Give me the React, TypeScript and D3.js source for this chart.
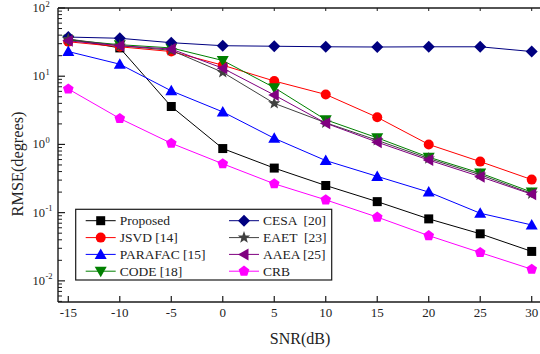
import { useMemo } from "react";
import * as d3 from "d3";

const snr = [-15, -10, -5, 0, 5, 10, 15, 20, 25, 30];

const proposed = [35, 26, 3.6, 0.87, 0.45, 0.25, 0.145, 0.081, 0.049, 0.027];
const jsvd = [32, 27, 23, 14.5, 8.5, 5.4, 2.5, 1.0, 0.56, 0.305];
const parafac = [23, 15, 6.1, 3.0, 1.23, 0.58, 0.34, 0.2, 0.098, 0.066];
const code = [34, 29, 26, 17, 6.8, 2.3, 1.25, 0.65, 0.38, 0.2];
const cesa = [37.5, 36, 31, 28, 27.5, 27, 26.8, 27, 27, 23];
const eaet = [35, 28, 24, 11.4, 4.0, 2.08, 1.15, 0.62, 0.36, 0.19];
const aaea = [33, 28, 25, 13.1, 5.3, 2.05, 1.08, 0.59, 0.337, 0.186];
const crb = [6.5, 2.4, 1.04, 0.52, 0.265, 0.154, 0.086, 0.046, 0.026, 0.0148];

const xTicks = [-15, -10, -5, 0, 5, 10, 15, 20, 25, 30];
const yDecades = [-2, -1, 0, 1, 2];

type Shape = "square" | "circle" | "up" | "down" | "left" | "diamond" | "star" | "pentagon";

const series: { name: string; values: number[]; color: string; shape: Shape }[] = [
  { name: "Proposed", values: proposed, color: "#000000", shape: "square" },
  { name: "JSVD [14]", values: jsvd, color: "#ff0000", shape: "circle" },
  { name: "PARAFAC [15]", values: parafac, color: "#0000ff", shape: "up" },
  { name: "CODE [18]", values: code, color: "#008000", shape: "down" },
  { name: "CESA  [20]", values: cesa, color: "#000080", shape: "diamond" },
  { name: "EAET  [23]", values: eaet, color: "#404040", shape: "star" },
  { name: "AAEA [25]", values: aaea, color: "#800080", shape: "left" },
  { name: "CRB", values: crb, color: "#ff00ff", shape: "pentagon" },
];

function poly(pts: [number, number][]) {
  return "M" + pts.map((p) => p.join(",")).join("L") + "Z";
}

function markerPath(shape: Shape) {
  if (shape === "square") return poly([[-4.5, -4.5], [4.5, -4.5], [4.5, 4.5], [-4.5, 4.5]]);
  if (shape === "circle") return "M5,0A5,5 0 1,1 -5,0A5,5 0 1,1 5,0Z";
  if (shape === "up") return poly([[0, -6], [6, 4.5], [-6, 4.5]]);
  if (shape === "down") return poly([[0, 6], [6, -4.5], [-6, -4.5]]);
  if (shape === "left") return poly([[-6, 0], [4.5, -6], [4.5, 6]]);
  if (shape === "diamond") return poly([[0, -6], [6, 0], [0, 6], [-6, 0]]);
  if (shape === "star") {
    const pts: [number, number][] = [];
    for (let i = 0; i < 10; i++) {
      const r = i % 2 === 0 ? 6.5 : 2.7;
      const a = -Math.PI / 2 + (i * Math.PI) / 5;
      pts.push([r * Math.cos(a), r * Math.sin(a)]);
    }
    return poly(pts);
  }
  const pts: [number, number][] = [];
  for (let i = 0; i < 5; i++) {
    const a = -Math.PI / 2 + (i * 2 * Math.PI) / 5;
    pts.push([5.6 * Math.cos(a), 5.6 * Math.sin(a)]);
  }
  return poly(pts);
}

export default function App() {
  const width = 540;
  const height = 354;
  const left = 58;
  const right = 542;
  const top = 8;
  const bottom = 302;

  const x = d3.scaleLinear().domain([-16, 31]).range([left, right]);
  const y = d3.scaleLog().domain([Math.pow(10, -2.31), 100]).range([bottom, top]);

  const line = d3
    .line<number>()
    .x((_, i) => x(snr[i]))
    .y((v) => y(v));

  const minorTicks = useMemo(() => {
    const out: number[] = [];
    for (let e = -3; e < 2; e++) {
      for (let m = 2; m <= 9; m++) {
        const v = m * Math.pow(10, e);
        if (v >= Math.pow(10, -2.31) && v < 100) out.push(v);
      }
    }
    return out;
  }, []);

  const font = "'Liberation Serif', 'Times New Roman', serif";
  const legX = [75.7, 219];
  const legRows = [220.7, 237.6, 254.4, 271.2];

  return (
    <svg
      width={width}
      height={height}
      style={{ position: "absolute", left: 0, top: 0, background: "#fff" }}
      fontFamily={font}
    >
      {/* data */}
      {series.map((s) => (
        <g key={s.name}>
          <path d={line(s.values) ?? ""} fill="none" stroke={s.color} strokeWidth={1} />
          {s.values.map((v, i) => (
            <path
              key={i}
              d={markerPath(s.shape)}
              transform={`translate(${x(snr[i])},${y(v)})`}
              fill={s.color}
            />
          ))}
        </g>
      ))}

      {/* axes frame */}
      <line x1={left} x2={left} y1={top} y2={bottom} stroke="#1a1a1a" strokeWidth={1.4} />
      <line x1={left} x2={right} y1={bottom} y2={bottom} stroke="#1a1a1a" strokeWidth={1.4} />
      <line x1={left} x2={right} y1={top} y2={top} stroke="#1a1a1a" strokeWidth={1.4} />

      {xTicks.map((t) => (
        <g key={t}>
          <line x1={x(t)} x2={x(t)} y1={bottom} y2={bottom - 6} stroke="#1a1a1a" strokeWidth={1.2} />
          <line x1={x(t)} x2={x(t)} y1={top} y2={top + 3} stroke="#1a1a1a" strokeWidth={1} />
          <text x={x(t)} y={317} fontSize={13} textAnchor="middle" fill="#222">
            {t}
          </text>
        </g>
      ))}

      {yDecades.map((e) => (
        <g key={e}>
          <line x1={left} x2={left + 7} y1={y(Math.pow(10, e))} y2={y(Math.pow(10, e))} stroke="#1a1a1a" strokeWidth={1.2} />
          <text x={45} y={y(Math.pow(10, e)) + 4} fontSize={12.5} textAnchor="end" fill="#222">
            10
          </text>
          <text x={45.5} y={y(Math.pow(10, e)) - 1.5} fontSize={8.5} fill="#222">
            {e}
          </text>
        </g>
      ))}
      {minorTicks.map((v) => (
        <line key={v} x1={left} x2={left + 4} y1={y(v)} y2={y(v)} stroke="#1a1a1a" strokeWidth={1} />
      ))}

      {/* axis titles */}
      <text x={300} y={344} fontSize={16} textAnchor="middle" fill="#222">
        SNR(dB)
      </text>
      <text
        transform={`translate(23,164) rotate(-90)`}
        fontSize={16.3}
        textAnchor="middle"
        fill="#222"
      >
        RMSE(degrees)
      </text>

      {/* legend */}
      <rect x={75.7} y={209.3} width={256} height={70.7} fill="#fff" stroke="#1a1a1a" strokeWidth={1.2} />
      {series.map((s, i) => {
        const col = Math.floor(i / 4);
        const row = i % 4;
        const lx = legX[col] + 10;
        const ly = legRows[row];
        return (
          <g key={s.name}>
            <line x1={lx} x2={lx + 30} y1={ly} y2={ly} stroke={s.color} strokeWidth={1} />
            <path d={markerPath(s.shape)} transform={`translate(${lx + 15},${ly})`} fill={s.color} />
            <text x={lx + 34} y={ly + 4.5} fontSize={13.5} fill="#222" style={{ whiteSpace: "pre" }}>
              {s.name}
            </text>
          </g>
        );
      })}
    </svg>
  );
}
